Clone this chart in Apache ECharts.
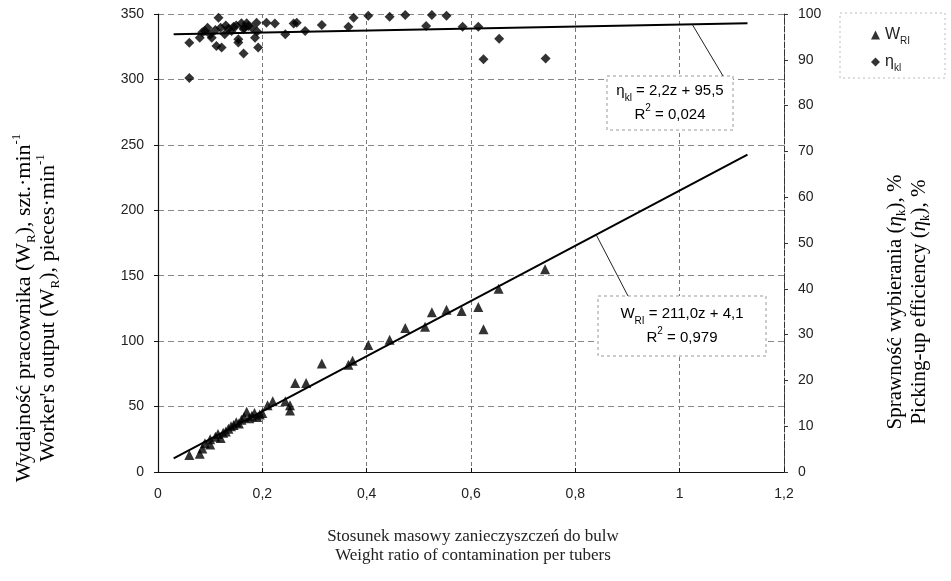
<!DOCTYPE html>
<html>
<head>
<meta charset="utf-8">
<script src="https://cdn.jsdelivr.net/npm/echarts@6/dist/echarts.min.js"></script>
<style>
  html, body { margin: 0; padding: 0; background: #fff; }
  #chart { width: 951px; height: 581px; }
</style>
</head>
<body>
<div id="chart"></div>
<script>
// worker output W_RI vs contamination ratio z
const wZ = [0.06, 0.08, 0.085, 0.09, 0.1, 0.1, 0.11, 0.115, 0.12, 0.125, 0.13, 0.135, 0.14, 0.145, 0.15, 0.155,
  0.16, 0.165, 0.17, 0.175, 0.18, 0.185, 0.19, 0.195, 0.2, 0.21, 0.22, 0.244, 0.253, 0.253, 0.263, 0.284,
  0.314, 0.365, 0.373, 0.403, 0.444, 0.474, 0.512, 0.525, 0.553, 0.582, 0.614, 0.624, 0.653, 0.742];
const wVal = [13, 14, 18, 22, 21, 25, 27, 29, 26, 30, 31, 33, 35, 36, 38, 37,
  40, 42, 46, 41, 43, 45, 42, 44, 45, 51, 54, 54, 51, 47, 68, 68,
  83, 82, 85, 97, 101, 110, 111, 122, 124, 123, 126, 109, 140, 155];

// picking-up efficiency eta_kl vs z
const etaZ = [0.06, 0.06, 0.08, 0.085, 0.09, 0.095, 0.1, 0.103, 0.11, 0.112, 0.116, 0.12, 0.122, 0.128, 0.13,
  0.135, 0.141, 0.145, 0.15, 0.154, 0.154, 0.16, 0.164, 0.164, 0.165, 0.17, 0.173, 0.18, 0.186, 0.189, 0.19,
  0.192, 0.208, 0.224, 0.244, 0.26, 0.266, 0.282, 0.314, 0.365, 0.375, 0.403, 0.444, 0.474, 0.514, 0.525,
  0.553, 0.584, 0.614, 0.624, 0.654, 0.743];
const etaVal = [86, 93.7, 94.8, 96, 96.3, 97, 95.5, 94.8, 96.5, 93, 99.2, 97, 92.7, 95.6, 97.5,
  96.8, 96.3, 97.2, 97.5, 94.5, 93.8, 98, 96.7, 91.4, 97, 98, 97.4, 97, 94.8, 98.1, 96.2,
  92.7, 98.1, 97.9, 95.6, 97.9, 98.1, 96.3, 97.6, 97.2, 99.2, 99.6, 99.4, 99.8, 97.4, 99.8,
  99.6, 97.2, 97.2, 90.1, 94.6, 90.3];

// trend lines, end points
const wTrendZ = [0.03, 1.13];
const wTrendY = [10.4, 242.5];
const etaTrendZ = [0.03, 1.13];
const etaTrendY = [95.6, 98.0];

const serif = '"Liberation Serif", "DejaVu Serif", serif';
const sans = '"Liberation Sans", Arial, sans-serif';

const pairs = (xs, ys) => xs.map((x, i) => [x, ys[i]]);
const comma = v => String(Math.round(v * 10) / 10).replace('.', ',');

const chart = echarts.init(document.getElementById('chart'));

// sub/superscripts: small tokens pushed to the bottom/top of a taller line
function titleRich(size) {
  return {
    n: { fontFamily: serif, fontSize: size, lineHeight: size + 6, color: '#222' },
    i: { fontFamily: serif, fontSize: size, lineHeight: size + 6, fontStyle: 'italic', color: '#222' },
    s: { fontFamily: serif, fontSize: 13, lineHeight: 14, color: '#222', verticalAlign: 'bottom' },
    p: { fontFamily: serif, fontSize: 13, lineHeight: 14, color: '#222', verticalAlign: 'top' }
  };
}
const boxRich = {
  t: { fontFamily: sans, fontSize: 15, lineHeight: 24, color: '#222' },
  s: { fontFamily: sans, fontSize: 10, lineHeight: 13, color: '#222', verticalAlign: 'bottom' },
  p: { fontFamily: sans, fontSize: 10, lineHeight: 13, color: '#222', verticalAlign: 'top' }
};

function rotText(x, y, text, size) {
  return {
    type: 'text', x: x, y: y, rotation: Math.PI / 2, silent: true,
    style: { text: text, rich: titleRich(size), align: 'center', verticalAlign: 'middle' }
  };
}

chart.setOption({
  animation: false,
  backgroundColor: '#fff',
  grid: { left: 158, right: 167, top: 14, bottom: 109 },
  legend: {
    orient: 'vertical',
    left: 866, top: 22,
    itemWidth: 9, itemHeight: 9, itemGap: 8,
    data: [
      { name: 'WRI', icon: 'triangle' },
      { name: 'ηkl', icon: 'diamond' }
    ],
    formatter: name => name === 'WRI' ? '{m|W}{s|RI}' : '{m|η}{s|kl}',
    textStyle: {
      rich: {
        m: { fontFamily: sans, fontSize: 16, lineHeight: 22, color: '#222' },
        s: { fontFamily: sans, fontSize: 10, lineHeight: 14, color: '#222', verticalAlign: 'bottom' }
      }
    }
  },
  xAxis: {
    type: 'value', min: 0, max: 1.2, interval: 0.2,
    axisLine: { lineStyle: { color: '#111', width: 1 } },
    axisTick: { show: true, length: 4, inside: true, lineStyle: { color: '#111' } },
    axisLabel: { margin: 15, fontFamily: sans, fontSize: 14, color: '#222', formatter: comma },
    splitLine: { show: true, lineStyle: { color: '#777', type: [4, 3], width: 1 } }
  },
  yAxis: [
    {
      type: 'value', min: 0, max: 350, interval: 50,
      axisLine: { show: true, lineStyle: { color: '#111', width: 1.2 } },
      axisTick: { show: true, length: 4, lineStyle: { color: '#111' } },
      axisLabel: { margin: 14, fontFamily: sans, fontSize: 14, color: '#222' },
      splitLine: { show: true, lineStyle: { color: '#888', type: [6, 4], width: 1 } }
    },
    {
      type: 'value', min: 0, max: 100, interval: 10, position: 'right',
      axisLine: { show: true, lineStyle: { color: '#333', width: 1, type: [6, 2] } },
      axisTick: { show: true, length: 4, lineStyle: { color: '#333' } },
      axisLabel: { margin: 14, fontFamily: sans, fontSize: 14, color: '#222' },
      splitLine: { show: false }
    }
  ],
  series: [
    {
      name: 'WRI', type: 'scatter', yAxisIndex: 0, symbol: 'triangle', symbolSize: 10,
      itemStyle: { color: '#000' }, data: pairs(wZ, wVal), z: 3
    },
    {
      name: 'ηkl', type: 'scatter', yAxisIndex: 1, symbol: 'diamond', symbolSize: 10,
      itemStyle: { color: '#000' }, data: pairs(etaZ, etaVal), z: 3
    },
    {
      name: 'trendW', type: 'line', yAxisIndex: 0, symbol: 'none', silent: true,
      lineStyle: { color: '#000', width: 2 }, data: pairs(wTrendZ, wTrendY), z: 2
    },
    {
      name: 'trendEta', type: 'line', yAxisIndex: 1, symbol: 'none', silent: true,
      lineStyle: { color: '#000', width: 2 }, data: pairs(etaTrendZ, etaTrendY), z: 2
    }
  ]
});

// leader lines start on the trend lines
const etaAnchor = chart.convertToPixel({ xAxisIndex: 0, yAxisIndex: 1 }, [1.024, 97.75]);
const wAnchor = chart.convertToPixel({ xAxisIndex: 0, yAxisIndex: 0 }, [0.84, 181.3]);

const dash = { stroke: '#999', lineWidth: 1, lineDash: [3, 3], fill: '#fff' };

chart.setOption({
  graphic: [
    // legend frame
    { type: 'rect', shape: { x: 840, y: 13, width: 105, height: 65 }, style: { stroke: '#bbb', lineDash: [2, 3], fill: 'none' }, silent: true },
    // eta box
    { type: 'rect', shape: { x: 607, y: 76, width: 126, height: 54 }, style: dash, z: 10 },
    { type: 'text', x: 670, y: 103, z: 11, style: { text: '{t|η}{s|kl}{t| = 2,2z + 95,5}\n{t|R}{p|2}{t| = 0,024}', rich: boxRich, align: 'center', verticalAlign: 'middle' } },
    { type: 'line', z: 11, shape: { x1: etaAnchor[0], y1: etaAnchor[1], x2: 723, y2: 76 }, style: { stroke: '#222', lineWidth: 1 } },
    // W box
    { type: 'rect', shape: { x: 598, y: 296, width: 168, height: 60 }, style: dash, z: 10 },
    { type: 'text', x: 682, y: 326, z: 11, style: { text: '{t|W}{s|RI}{t| = 211,0z + 4,1}\n{t|R}{p|2}{t| = 0,979}', rich: boxRich, align: 'center', verticalAlign: 'middle' } },
    { type: 'line', z: 11, shape: { x1: wAnchor[0], y1: wAnchor[1], x2: 628, y2: 296 }, style: { stroke: '#222', lineWidth: 1 } },
    // axis titles
    rotText(24, 308, '{n|Wydajność pracownika (W}{s|R}{n|), szt.·min}{p|-1}', 22),
    rotText(48, 308, '{n|Worker\'s output (W}{s|R}{n|), pieces·min}{p|-1}', 22),
    rotText(895, 302, '{n|Sprawność wybierania (}{i|η}{s|k}{n|), %}', 21),
    rotText(919, 302, '{n|Picking-up efficiency (}{i|η}{s|k}{n|), %}', 21),
    {
      type: 'text', x: 473, y: 546, silent: true,
      style: { text: 'Stosunek masowy zanieczyszczeń do bulw\nWeight ratio of contamination per tubers', fontFamily: serif, fontSize: 17, lineHeight: 19, fill: '#222', align: 'center', verticalAlign: 'middle' }
    }
  ]
});
</script>
</body>
</html>
